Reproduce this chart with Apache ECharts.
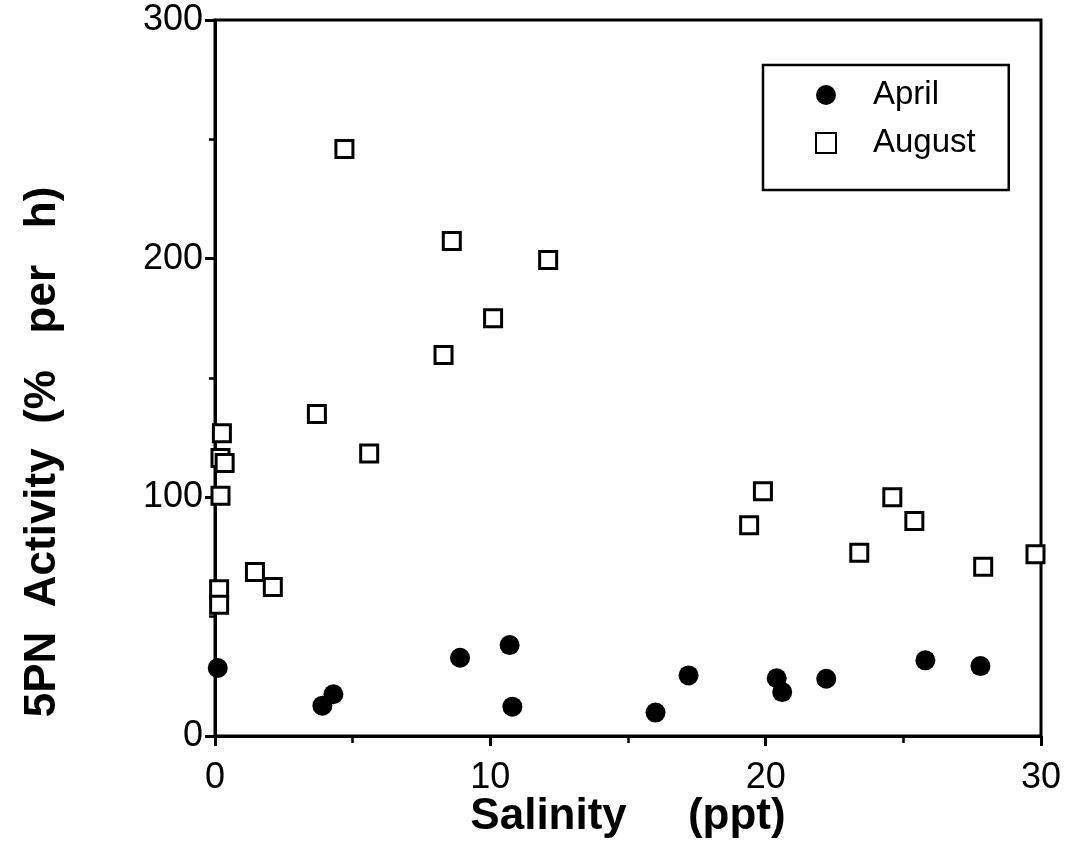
<!DOCTYPE html>
<html>
<head>
<meta charset="utf-8">
<script src="https://cdn.jsdelivr.net/npm/echarts@6/dist/echarts.min.js"></script>
<style>
html,body{margin:0;padding:0;background:#fff;}
#chart{width:1065px;height:852px;}
</style>
</head>
<body>
<div id="chart"></div>
<script>
// Data
const aprilX = [0.1, 3.9, 4.3, 8.9, 10.7, 10.8, 16.0, 17.2, 20.4, 20.6, 22.2, 25.8, 27.8];
const aprilY = [28.5, 12.7, 17.5, 32.8, 38.1, 12.3, 9.8, 25.4, 24.2, 18.4, 24.0, 31.7, 29.3];
const augustX = [0.25, 0.2, 0.35, 0.2, 0.15, 0.15, 1.45, 2.1, 3.7, 4.7, 5.6, 8.3, 8.6, 10.1, 12.1, 19.4, 19.9, 23.4, 24.6, 25.4, 27.9, 29.8];
const augustY = [126.8, 116.5, 114.4, 100.7, 61.5, 55, 68.7, 62.4, 134.9, 246.0, 118.4, 159.6, 207.4, 175.0, 199.4, 88.3, 102.6, 76.8, 100.0, 90.1, 70.9, 76.2];
const seriesNames = ['April', 'August'];
const xTitle = 'Salinity     (ppt)';
const yTitle = '5PN  Activity  (%   per   h)';

const zip = (xs, ys) => xs.map((x, i) => [x, ys[i]]);
const FONT = '"Liberation Sans", Arial, Helvetica, sans-serif';

const chart = echarts.init(document.getElementById('chart'));
chart.setOption({
  backgroundColor: '#fff',
  animation: false,
  textStyle: { fontFamily: FONT, color: '#000' },
  grid: {
    left: 215, right: 24, top: 20, bottom: 116,
    show: true, borderColor: '#000', borderWidth: 3, backgroundColor: 'transparent'
  },
  legend: {
    orient: 'vertical',
    left: 763, top: 65,
    padding: [13, 33, 30, 52],
    borderColor: '#000', borderWidth: 2.5,
    itemWidth: 20, itemHeight: 20, itemGap: 14,
    textStyle: { fontSize: 33, color: '#000', fontFamily: FONT, lineHeight: 34, padding: [0, 0, 0, 32] },
    data: seriesNames
  },
  xAxis: {
    type: 'value', min: 0, max: 30, interval: 10,
    name: xTitle, nameLocation: 'middle', nameGap: 59, nameMoveOverlap: false,
    nameTextStyle: { fontSize: 44, fontWeight: 'bold', color: '#000', fontFamily: FONT },
    axisLine: { show: true, lineStyle: { color: '#000', width: 3 } },
    axisTick: { show: true, inside: false, length: 10, lineStyle: { color: '#000', width: 3 } },
    minorTick: { show: true, splitNumber: 2, length: 7, lineStyle: { color: '#000', width: 2.5 } },
    axisLabel: { fontSize: 36, color: '#000', margin: 24, fontFamily: FONT },
    splitLine: { show: false }
  },
  yAxis: {
    type: 'value', min: 0, max: 300, interval: 100,
    name: yTitle, nameLocation: 'middle', nameGap: 150, nameMoveOverlap: false,
    nameTextStyle: { fontSize: 44, fontWeight: 'bold', color: '#000', fontFamily: FONT, padding: [0, 148, 0, 0] },
    axisLine: { show: true, lineStyle: { color: '#000', width: 3 } },
    axisTick: { show: true, inside: false, length: 10, lineStyle: { color: '#000', width: 3 } },
    minorTick: { show: true, splitNumber: 2, length: 6, lineStyle: { color: '#000', width: 2.5 } },
    axisLabel: { fontSize: 36, color: '#000', margin: 12, fontFamily: FONT },
    splitLine: { show: false }
  },
  series: [
    {
      name: seriesNames[0], type: 'scatter', symbol: 'circle', symbolSize: 20,
      itemStyle: { color: '#000', opacity: 1 },
      data: zip(aprilX, aprilY), z: 3
    },
    {
      name: seriesNames[1], type: 'scatter', symbol: 'rect', symbolSize: 17,
      itemStyle: { color: '#fff', borderColor: '#000', borderWidth: 3, opacity: 1 },
      data: zip(augustX, augustY), z: 2
    }
  ]
});
</script>
</body>
</html>
